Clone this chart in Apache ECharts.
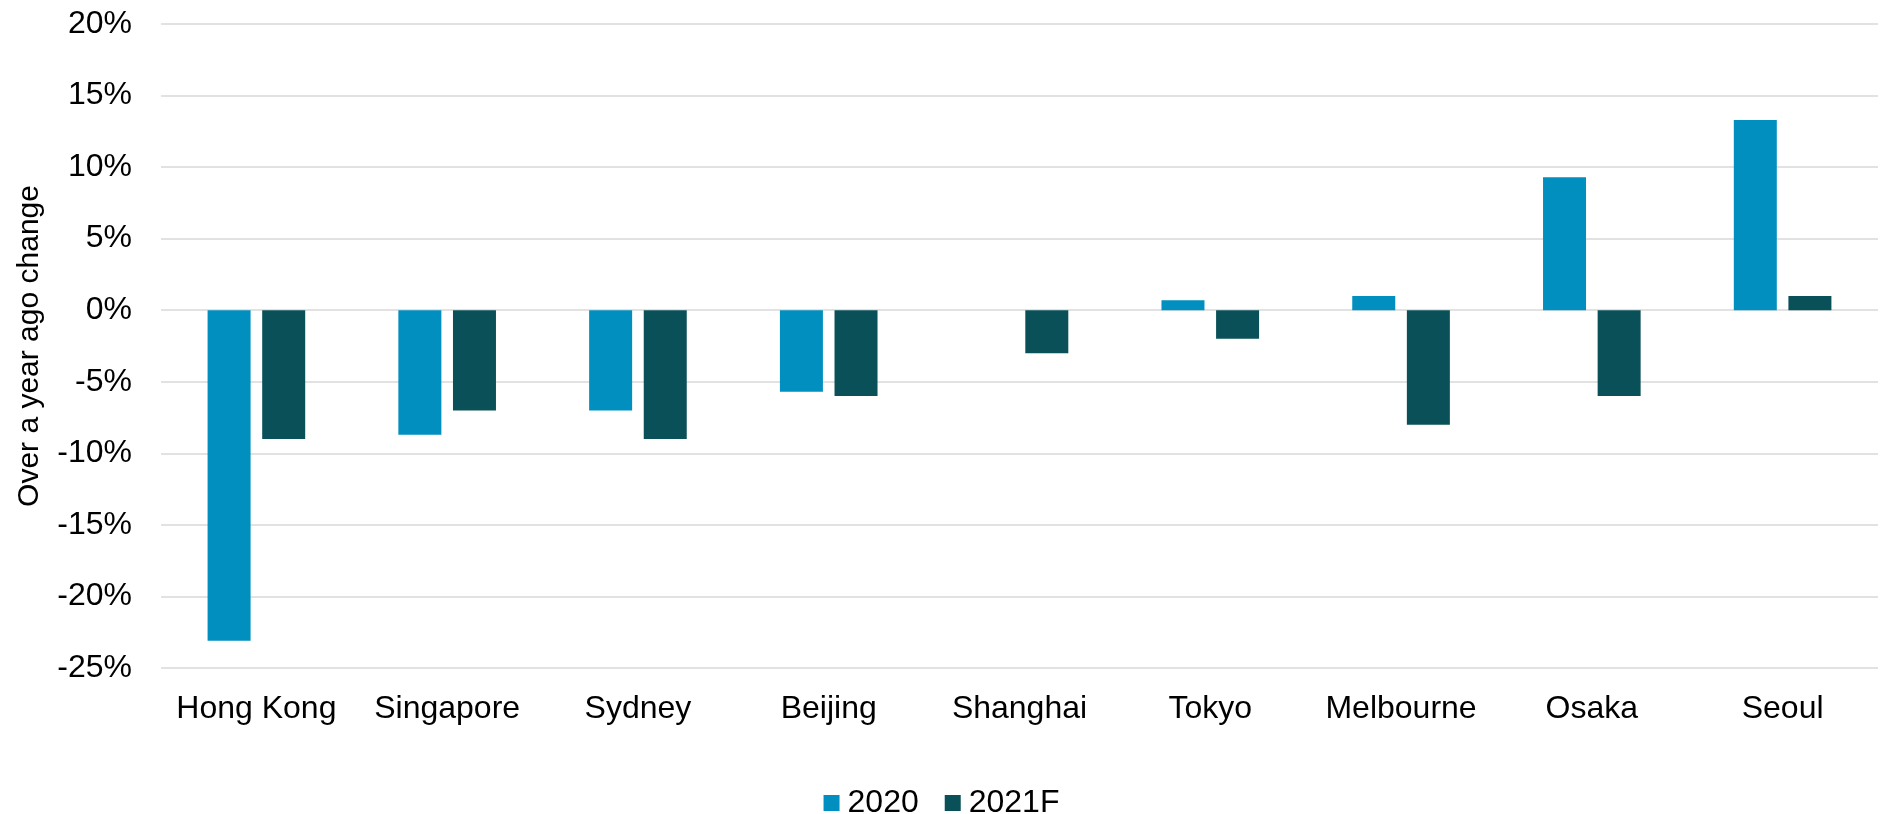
<!DOCTYPE html>
<html>
<head>
<meta charset="utf-8">
<script src="https://cdn.jsdelivr.net/npm/echarts@6/dist/echarts.min.js"></script>
<style>
  html, body { margin: 0; padding: 0; background: #fff; }
  #chart { width: 1883px; height: 814px; }
</style>
</head>
<body>
<div id="chart"></div>
<script>
// City rent change, year on year (%)
const cities = ['Hong Kong', 'Singapore', 'Sydney', 'Beijing', 'Shanghai', 'Tokyo', 'Melbourne', 'Osaka', 'Seoul'];
const values2020 = [-23.1, -8.7, -7.0, -5.7, null, 0.7, 1.0, 9.3, 13.3];
const values2021F = [-9.0, -7.0, -9.0, -6.0, -3.0, -2.0, -8.0, -6.0, 1.0];
const seriesNames = ['2020', '2021F'];
const yAxisTitle = 'Over a year ago change';

const FONT = '"Liberation Sans", Arial, Helvetica, sans-serif';
const chart = echarts.init(document.getElementById('chart'), null, { renderer: 'canvas' });

chart.setOption({
  animation: false,
  backgroundColor: '#ffffff',
  textStyle: { fontFamily: FONT, color: '#000' },
  grid: { left: 161, right: 5, top: 24, bottom: 146, containLabel: false },
  legend: {
    data: seriesNames,
    top: 782,
    left: 'center',
    icon: 'rect',
    itemWidth: 16,
    itemHeight: 16,
    itemGap: 26,
    textStyle: { fontFamily: FONT, fontSize: 32, color: '#000', padding: [0, 0, 0, 3] }
  },
  xAxis: {
    type: 'category',
    data: cities,
    axisLine: { show: false },
    axisTick: { show: false },
    axisLabel: { fontFamily: FONT, fontSize: 32, color: '#000', margin: 25, interval: 0 }
  },
  yAxis: {
    type: 'value',
    min: -25,
    max: 20,
    interval: 5,
    name: yAxisTitle,
    nameLocation: 'middle',
    nameGap: 116,
    nameTextStyle: { fontFamily: FONT, fontSize: 30, color: '#000' },
    axisLine: { show: false },
    axisTick: { show: false },
    axisLabel: { fontFamily: FONT, fontSize: 32, color: '#000', margin: 29, formatter: v => v + '%' },
    splitLine: { lineStyle: { color: '#d9d9d9', width: 1.5 } }
  },
  series: [
    {
      name: seriesNames[0],
      type: 'bar',
      data: values2020,
      barWidth: 43,
      barGap: '27%',
      itemStyle: { color: '#018fbf' }
    },
    {
      name: seriesNames[1],
      type: 'bar',
      data: values2021F,
      barWidth: 43,
      itemStyle: { color: '#0a5058' }
    }
  ]
});
</script>
</body>
</html>
